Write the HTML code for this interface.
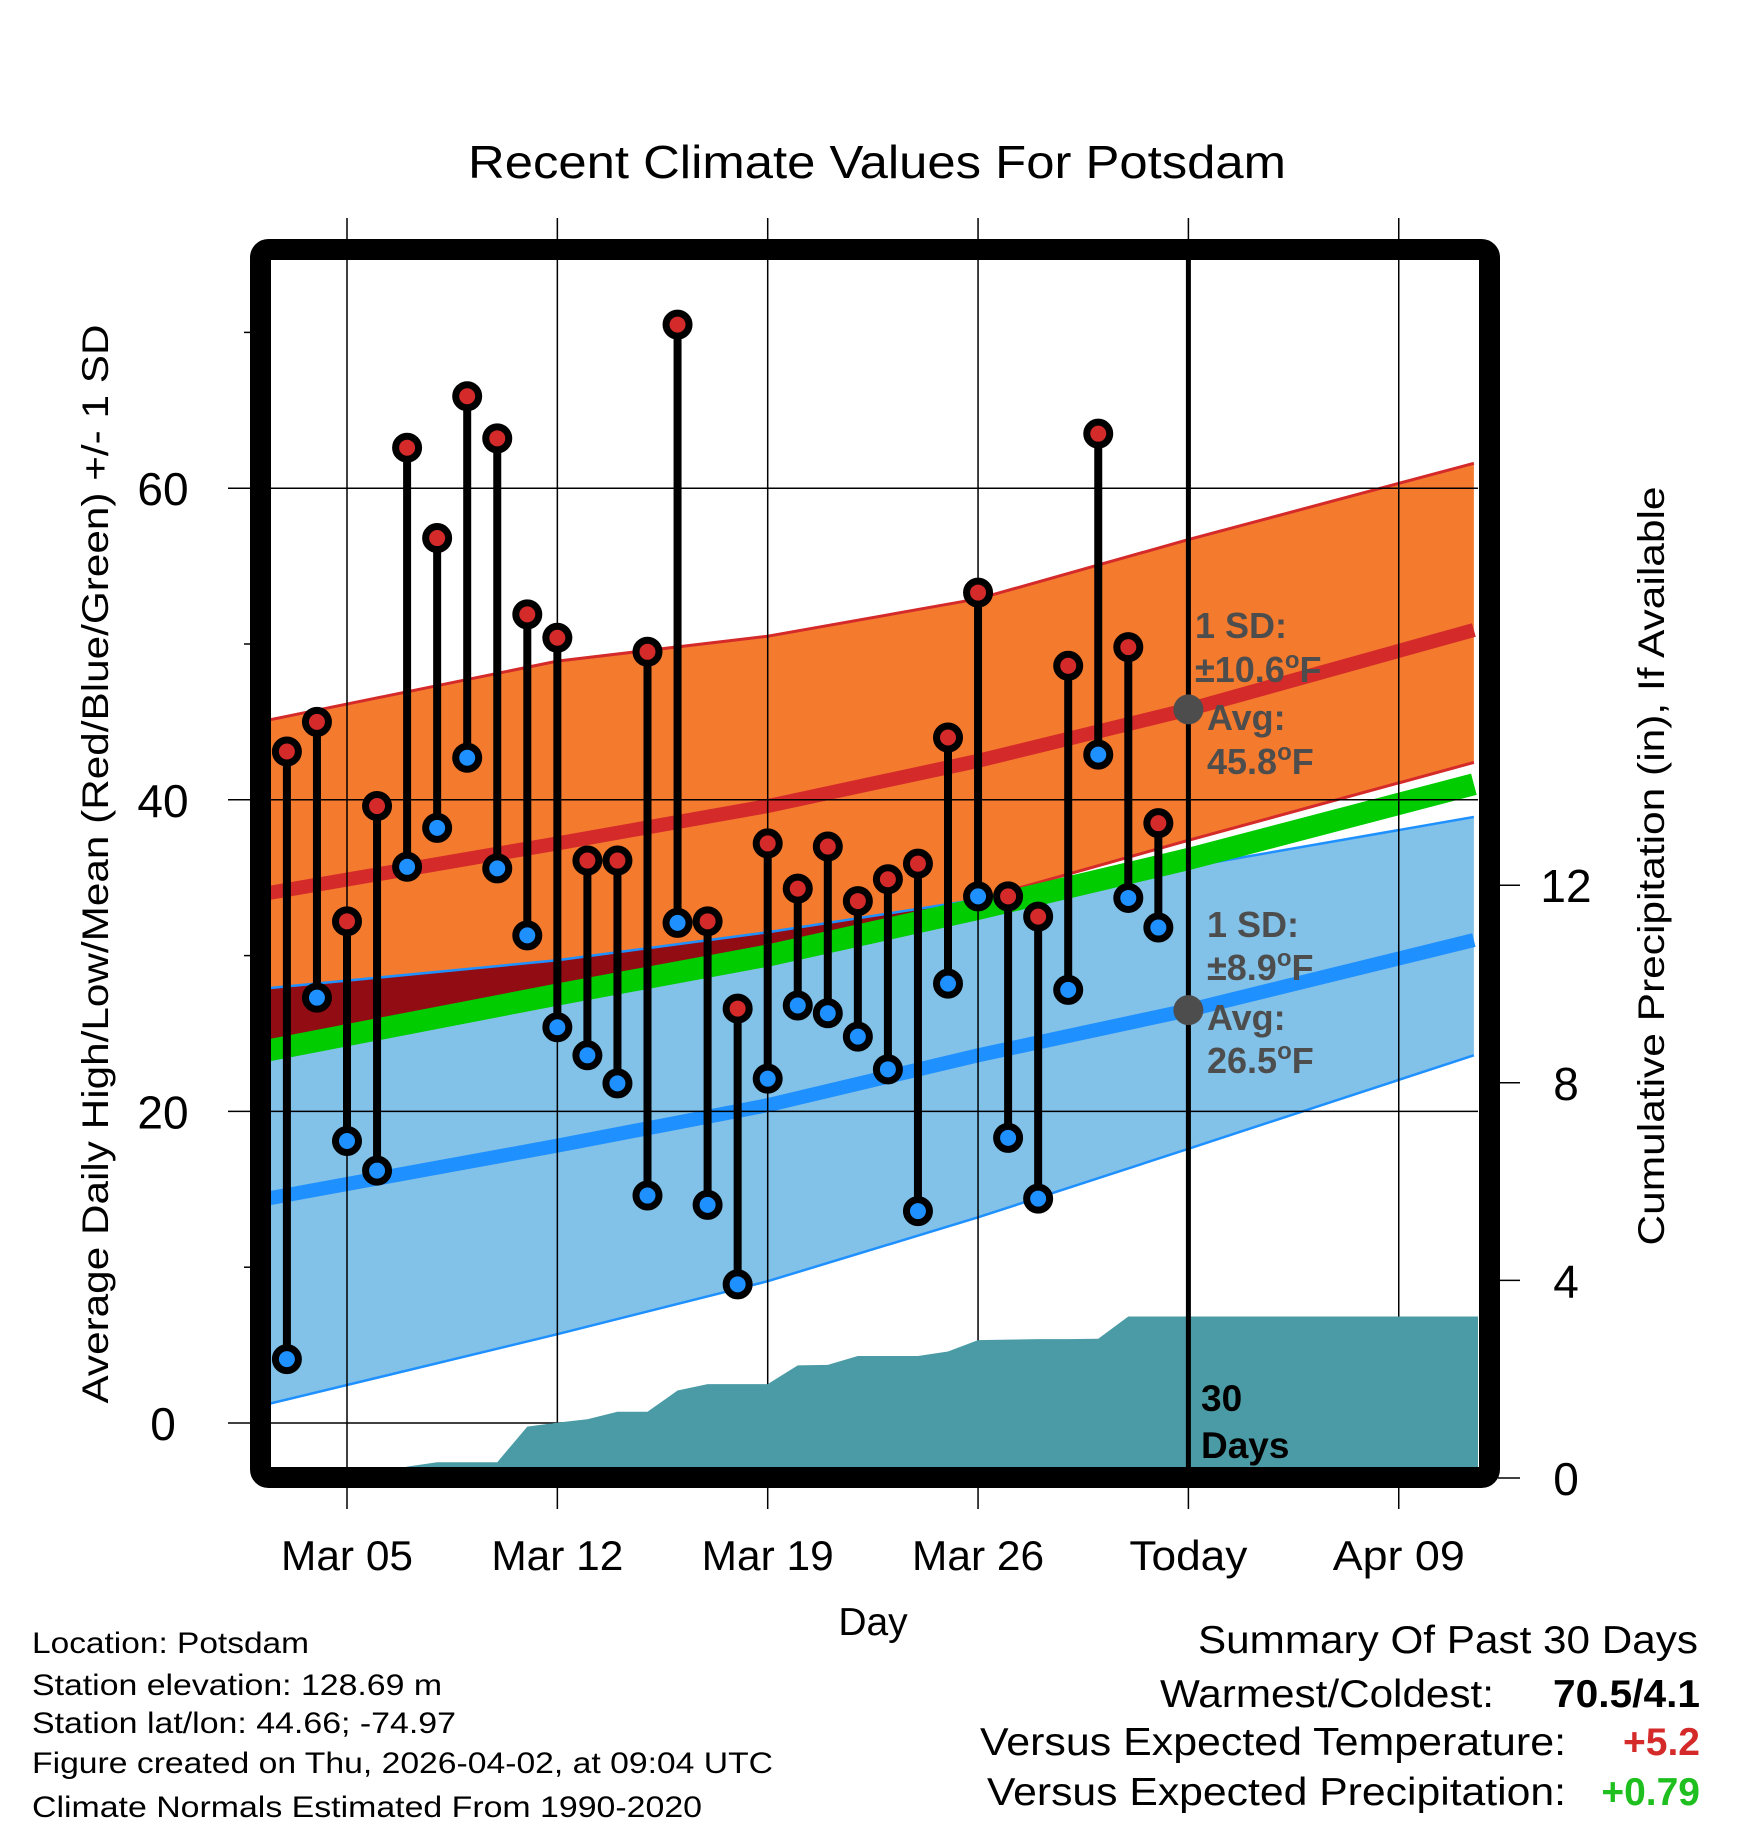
<!DOCTYPE html>
<html><head><meta charset="utf-8"><style>
html,body{margin:0;padding:0;background:#fff}
svg{display:block}
text{font-family:"Liberation Sans",Arial,sans-serif}
</style></head><body>
<svg id="chart" width="1748" height="1828" viewBox="0 0 1748 1828" xmlns="http://www.w3.org/2000/svg">
<defs><clipPath id="plotclip"><rect x="270" y="260" width="1208" height="1208"/></clipPath></defs>
<g id="bands" clip-path="url(#plotclip)"></g>
<g id="grid"></g>
<g id="precip" clip-path="url(#plotclip)"></g>
<g id="marks" clip-path="url(#plotclip)"></g>
<g id="annot"></g>
<rect x="260.5" y="249.5" width="1229" height="1228" rx="8" fill="none" stroke="#000" stroke-width="21"/>
<g id="axes"></g>
<text x="877" y="178" font-size="46" text-anchor="middle" textLength="818" lengthAdjust="spacingAndGlyphs">Recent Climate Values For Potsdam</text>
<text x="873" y="1635" font-size="39" text-anchor="middle">Day</text>
<text transform="translate(108,864) rotate(-90)" font-size="37" text-anchor="middle" textLength="1079" lengthAdjust="spacingAndGlyphs">Average Daily High/Low/Mean (Red/Blue/Green) +/- 1 SD</text>
<text transform="translate(1664,866) rotate(-90)" font-size="37" text-anchor="middle" textLength="759" lengthAdjust="spacingAndGlyphs">Cumulative Precipitation (in), If Available</text>
<g font-size="30">
<text x="32" y="1653" textLength="277" lengthAdjust="spacingAndGlyphs">Location: Potsdam</text>
<text x="32" y="1695" textLength="410" lengthAdjust="spacingAndGlyphs">Station elevation: 128.69 m</text>
<text x="32" y="1733" textLength="424" lengthAdjust="spacingAndGlyphs">Station lat/lon: 44.66; -74.97</text>
<text x="32" y="1773" textLength="741" lengthAdjust="spacingAndGlyphs">Figure created on Thu, 2026-04-02, at 09:04 UTC</text>
<text x="32" y="1817" textLength="670" lengthAdjust="spacingAndGlyphs">Climate Normals Estimated From 1990-2020</text>
</g>
<g font-size="39">
<text x="1698" y="1653" text-anchor="end" textLength="500" lengthAdjust="spacingAndGlyphs">Summary Of Past 30 Days</text>
<text x="1494" y="1707" text-anchor="end" textLength="334" lengthAdjust="spacingAndGlyphs">Warmest/Coldest:</text>
<text x="1700" y="1707" text-anchor="end" font-weight="bold" textLength="147" lengthAdjust="spacingAndGlyphs">70.5/4.1</text>
<text x="1566" y="1755" text-anchor="end" textLength="586" lengthAdjust="spacingAndGlyphs">Versus Expected Temperature:</text>
<text x="1700" y="1755" text-anchor="end" font-weight="bold" fill="#d42a2a">+5.2</text>
<text x="1566" y="1805" text-anchor="end" textLength="579" lengthAdjust="spacingAndGlyphs">Versus Expected Precipitation:</text>
<text x="1700" y="1805" text-anchor="end" font-weight="bold" fill="#1fbf1f">+0.79</text>
</g>
</svg>
<script>
// ---- data ----
const obsDays = [3,4,5,6,7,8,9,10,11,12,13,14,15,16,17,18,19,20,21,22,23,24,25,26,27,28,29,30,31,32];
const highs = [43.1,45.0,32.2,39.6,62.6,56.8,65.9,63.2,51.9,50.4,36.1,36.1,49.5,70.5,32.2,26.6,37.2,34.3,37.0,33.5,34.9,35.9,44.0,53.3,33.8,32.5,48.6,63.5,49.8,38.5];
const lows = [4.1,27.3,18.1,16.2,35.7,38.2,42.7,35.6,31.3,25.4,23.6,21.8,14.6,32.1,14.0,8.9,22.1,26.8,26.3,24.8,22.7,13.6,28.2,33.8,18.3,14.4,27.8,42.9,33.7,31.8];
const precipCum = [0,0,0,0,0.23,0.32,0.32,0.32,1.04,1.12,1.19,1.34,1.34,1.77,1.90,1.90,1.90,2.28,2.29,2.47,2.47,2.47,2.56,2.79,2.80,2.81,2.81,2.82,3.27,3.27];
const normDays = [2.34,12,19,26,33,42.5];
const hiUpper = [45.1,48.9,50.5,52.9,56.7,61.6];
const hiMean = [34.0,37.2,39.6,42.5,45.8,50.9];
const hiLower = [24.5,28.0,30.6,33.6,37.4,42.4];
const loUpper = [27.9,29.7,31.5,33.6,35.7,38.9];
const loMean = [14.4,17.8,20.4,23.6,26.5,31.0];
const loLower = [1.2,5.7,9.1,13.2,17.6,23.6];
const avgMean = [23.9,27.5,30.0,33.0,36.2,41.0];
const xTickDays = [5,12,19,26,33,40];
const xTickLabels = ["Mar 05","Mar 12","Mar 19","Mar 26","Today","Apr 09"];
const yTicks = [0,20,40,60];
const yMinorTicks = [10,30,50,70];
const y2Ticks = [0,4,8,12];
const todayDay = 33;
const dayMin = 2.34, dayMax = 42.5;

// ---- axes ----
const X = d => 347 + (d - 5) * 30.05;
const Y = t => 1423 - t * 15.58;
const Y2 = p => 1478 - p * 49.4;
const NS = "http://www.w3.org/2000/svg";
function mk(tag, parent, attrs) {
  const e = document.createElementNS(NS, tag);
  for (const k in attrs) e.setAttribute(k, attrs[k]);
  parent.appendChild(e); return e;
}
const bands = document.getElementById('bands');
const grid = document.getElementById('grid');
const precipG = document.getElementById('precip');
const marks = document.getElementById('marks');
const annot = document.getElementById('annot');
const axes = document.getElementById('axes');

function linePts(arr) { return normDays.map((d,i) => X(d) + ',' + Y(arr[i])); }
function bandPts(up, lo) { return linePts(up).concat(linePts(lo).reverse()).join(' '); }
function interp(arr, d) {
  for (let i = 0; i < normDays.length - 1; i++) {
    if (d <= normDays[i+1]) { const f = (d - normDays[i])/(normDays[i+1]-normDays[i]); return arr[i] + f*(arr[i+1]-arr[i]); }
  }
  return arr[arr.length-1];
}

let e;
e = mk('polygon', bands, {points: bandPts(hiUpper, hiLower), fill: '#f47a2e'});


e = mk('polygon', bands, {points: bandPts(loUpper, loLower), fill: '#82c1e8'});


const ovTop = [], ovBot = [];
for (let d = dayMin; d <= dayMax + 0.01; d += 0.25) {
  const top = Math.min(interp(hiUpper,d), interp(loUpper,d));
  const bot = Math.max(interp(hiLower,d), interp(loLower,d));
  if (top > bot) { ovTop.push(X(d)+','+Y(top)); ovBot.push(X(d)+','+Y(bot)); }
}
if (ovTop.length) {
  e = mk('polygon', bands, {points: ovTop.concat(ovBot.reverse()).join(' '), fill: '#920c14'});
  
  
}
[[hiUpper,'#d42a2a',3,'high-upper-line'],[hiLower,'#d42a2a',3,'high-lower-line'],[loUpper,'#1e90ff',2.5,'low-upper-line'],[loLower,'#1e90ff',2.5,'low-lower-line'],[hiMean,'#d42a2a',14,'high-mean-line'],[loMean,'#1e90ff',14,'low-mean-line'],[avgMean,'#00cc00',22,'mean-line']].forEach(s => {
  const l = mk('polyline', bands, {points: linePts(s[0]).join(' '), fill: 'none', stroke: s[1], 'stroke-width': s[2], 'stroke-linejoin': 'round'});
  
  
});

xTickDays.forEach((d,i) => {
  const g = mk('line', grid, {x1: X(d), x2: X(d), y1: 218, y2: 1509, stroke: '#000', 'stroke-width': 1.5});
  
  
  const t = mk('text', axes, {x: X(d), y: 1570, 'font-size': 42, 'text-anchor': 'middle', textLength: xTickLabels[i].length > 5 ? 132 : 118, lengthAdjust: 'spacingAndGlyphs'});
  t.textContent = xTickLabels[i];
  
  
});
yTicks.forEach(v => {
  const g = mk('line', grid, {x1: 228, x2: 1478, y1: Y(v), y2: Y(v), stroke: '#000', 'stroke-width': 1.5});
  
  
  const t = mk('text', axes, {x: 163, y: Y(v) + 17, 'font-size': 46, 'text-anchor': 'middle'});
  t.textContent = v;
  
  
});
yMinorTicks.forEach(v => {
  const g = mk('line', axes, {x1: 244, x2: 252, y1: Y(v), y2: Y(v), stroke: '#000', 'stroke-width': 1.5});
  
  
});
y2Ticks.forEach(v => {
  const g = mk('line', axes, {x1: 1498, x2: 1520, y1: Y2(v), y2: Y2(v), stroke: '#000', 'stroke-width': 1.5});
  
  
  const t = mk('text', axes, {x: 1566, y: Y2(v) + 17, 'font-size': 46, 'text-anchor': 'middle'});
  t.textContent = v;
  
  
});

let pp = [X(dayMin)+','+Y2(0)];
obsDays.forEach((d,i) => pp.push(X(d)+','+Y2(precipCum[i])));
pp.push(X(dayMax+1)+','+Y2(precipCum[precipCum.length-1]));
pp.push(X(dayMax+1)+','+Y2(0));
e = mk('polygon', precipG, {points: pp.join(' '), fill: '#4a9ba5'});



e = mk('line', marks, {x1: X(todayDay), x2: X(todayDay), y1: 250, y2: 1470, stroke: '#000', 'stroke-width': 5});



obsDays.forEach((d,i) => {
  const s = mk('line', marks, {x1: X(d), x2: X(d), y1: Y(highs[i]), y2: Y(lows[i]), stroke: '#000', 'stroke-width': 8});
  
  
});
obsDays.forEach((d,i) => {
  const h = mk('circle', marks, {cx: X(d), cy: Y(highs[i]), r: 11.5, fill: '#d42a2a', stroke: '#000', 'stroke-width': 7});
  
  
  const l = mk('circle', marks, {cx: X(d), cy: Y(lows[i]), r: 11.5, fill: '#1e90ff', stroke: '#000', 'stroke-width': 7});
  
  
});

e = mk('circle', annot, {cx: X(todayDay), cy: Y(interp(hiMean, todayDay)), r: 15, fill: '#4d4d4d'});


e = mk('circle', annot, {cx: X(todayDay), cy: Y(interp(loMean, todayDay)), r: 15, fill: '#4d4d4d'});


const notes = [
  [1195,638,'1 SD:'],[1195,682,'±10.6<tspan font-size="24" dy="-14">o</tspan><tspan dy="14">F</tspan>'],
  [1207,730,'Avg:'],[1207,774,'45.8<tspan font-size="24" dy="-14">o</tspan><tspan dy="14">F</tspan>'],
  [1207,937,'1 SD:'],[1207,980,'±8.9<tspan font-size="24" dy="-14">o</tspan><tspan dy="14">F</tspan>'],
  [1207,1030,'Avg:'],[1207,1073,'26.5<tspan font-size="24" dy="-14">o</tspan><tspan dy="14">F</tspan>']
];
notes.forEach(n => {
  const t = mk('text', annot, {x: n[0], y: n[1], 'font-size': 36, 'font-weight': 'bold', fill: '#4d4d4d'});
  t.innerHTML = n[2];
  
  
});
[['30',1411],['Days',1458]].forEach(n => {
  const t = mk('text', annot, {x: 1201, y: n[1], 'font-size': 37, 'font-weight': 'bold', fill: '#000'});
  t.textContent = n[0];
  
  
});
</script>
</body></html>
